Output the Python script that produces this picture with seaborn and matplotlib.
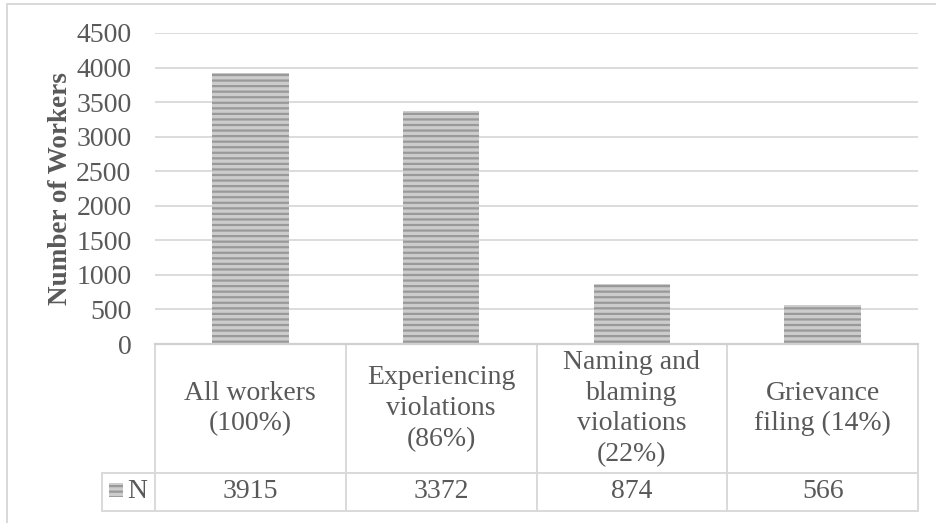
import matplotlib
matplotlib.use("Agg")
import matplotlib.pyplot as plt
from matplotlib.patches import Rectangle
from matplotlib.lines import Line2D
import seaborn as sns
import pandas as pd

# Data
categories = ["All workers\n(100%)", "Experiencing\nviolations\n(86%)",
              "Naming and\nblaming\nviolations\n(22%)", "Grievance\nfiling (14%)"]
counts = [3915, 3372, 874, 566]
series_name = "N"
y_ticks = [0, 500, 1000, 1500, 2000, 2500, 3000, 3500, 4000, 4500]

sns.set_style("white")
plt.rcParams["font.family"] = ["Liberation Serif", "DejaVu Serif"]
plt.rcParams["hatch.linewidth"] = 1.6

TXT = "#595959"
LINE = "#d9d9d9"
BAR = "#cccccc"
STRIPE = "#999999"
FS = 20

W, H = 936, 523
fig = plt.figure(figsize=(W / 100, H / 100), dpi=100)

# plot area in pixel coordinates
L, R, T, B = 155, 918, 33, 344
ax = fig.add_axes([L / W, 1 - B / H, (R - L) / W, (B - T) / H])

df = pd.DataFrame({"category": categories, "count": counts})
sns.barplot(data=df, x="category", y="count", ax=ax, color=BAR,
            width=0.4, saturation=1, linewidth=0)
for p in ax.patches:
    p.set_facecolor(BAR)
    p.set_edgecolor(STRIPE)
    p.set_linewidth(0)
    p.set_hatch("---")

ax.set_ylim(0, 4500)
ax.set_xlim(-0.5, len(categories) - 0.5)
ax.set_yticks(y_ticks)
ax.set_yticklabels([str(t) for t in y_ticks], fontsize=FS, color=TXT)
ax.tick_params(axis="y", length=0, pad=17)
ax.set_xticks([])
ax.set_xlabel("")
ax.set_ylabel("Number of Workers", fontsize=19.5, fontweight="bold", color=TXT, labelpad=2)
ax.yaxis.grid(True, color=LINE, linewidth=1.3)
ax.set_axisbelow(True)
for s in ["top", "right", "left"]:
    ax.spines[s].set_visible(False)
ax.spines["bottom"].set_color("#d0d0d0")
ax.spines["bottom"].set_linewidth(1.6)

# data table under the axis
ph = B - T
pw = R - L
def fy(py):
    return (B - py) / ph
def fx(px):
    return (px - L) / pw

row1_bot = fy(473)
row2_bot = fy(511)
n_left = fx(102)
lkw = dict(transform=ax.transAxes, color=LINE, linewidth=1.4, clip_on=False)

# horizontal rules
ax.add_line(Line2D([n_left, 1], [row1_bot, row1_bot], **lkw))
ax.add_line(Line2D([n_left, 1], [row2_bot, row2_bot], **lkw))
# vertical rules
for i in range(len(categories) + 1):
    x0 = i / len(categories)
    ax.add_line(Line2D([x0, x0], [0, row2_bot], **lkw))
ax.add_line(Line2D([n_left, n_left], [row1_bot, row2_bot], **lkw))

blend = ax.get_xaxis_transform()
cat_mid = (0 + row1_bot) / 2
n_mid = (row1_bot + row2_bot) / 2
for i, (c, v) in enumerate(zip(categories, counts)):
    ax.text(i, cat_mid, c, transform=blend, ha="center", va="center",
            fontsize=FS, color=TXT, linespacing=1.3, clip_on=False)
    ax.text(i, n_mid, f"{v}", transform=blend, ha="center", va="center",
            fontsize=FS, color=TXT, clip_on=False)

# legend key in the series cell
ax.add_patch(Rectangle((fx(109), fy(497)), fx(123) - fx(109), fy(483) - fy(497),
                       transform=ax.transAxes, facecolor=BAR, hatch="---",
                       edgecolor=STRIPE, linewidth=0, clip_on=False))
ax.text(fx(127), n_mid, series_name, transform=ax.transAxes, ha="left", va="center",
        fontsize=FS, color=TXT, clip_on=False)

# chart border
fig.add_artist(Rectangle((7 / W, -0.1), 1.2, 1 - 3.5 / H + 0.1, transform=fig.transFigure,
                         fill=False, edgecolor=LINE, linewidth=1.4))

fig.savefig("out.png", dpi=100, facecolor="white")
